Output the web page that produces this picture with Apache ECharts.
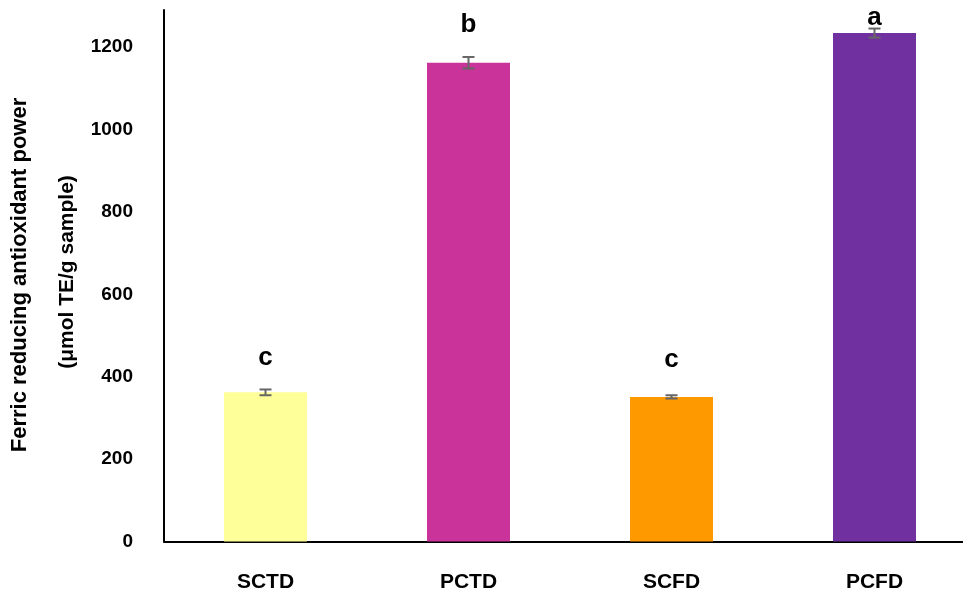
<!DOCTYPE html>
<html><head><meta charset="utf-8">
<script src="https://cdn.jsdelivr.net/npm/echarts@6/dist/echarts.min.js"></script>
<style>html,body{margin:0;padding:0;background:#fff;overflow:hidden;width:963px;height:594px}#c{width:980px;height:594px}</style>
</head><body><div id="c"></div>
<script>
const categories = ['SCTD', 'PCTD', 'SCFD', 'PCFD'];
const values = [362, 1162, 351, 1234];
const errors = [7, 14, 4, 11];
const letters = ['c', 'b', 'c', 'a'];
const barColors = ['#FFFF99', '#CA3399', '#FF9900', '#7030A0'];
const yTicks = [0, 200, 400, 600, 800, 1000, 1200];
const letterGap = [19, 19, 22, -2];

const chart = echarts.init(document.getElementById('c'), null, {renderer: 'canvas'});
const font = 'Liberation Sans, Arial, sans-serif';
chart.setOption({
  animation: false,
  backgroundColor: '#ffffff',
  grid: {left: 164, top: 10, width: 812, height: 531.5, containLabel: false},
  xAxis: {
    type: 'category', data: categories,
    axisLine: {lineStyle: {color: '#000', width: 2}},
    axisTick: {show: false},
    axisLabel: {color: '#000', fontFamily: font, fontWeight: 'bold', fontSize: 21, margin: 30}
  },
  yAxis: {
    type: 'value', min: 0, max: 1290, interval: 200,
    axisLine: {show: true, lineStyle: {color: '#000', width: 2}},
    axisTick: {show: false},
    splitLine: {show: false},
    axisLabel: {color: '#000', fontFamily: font, fontWeight: 'bold', fontSize: 19, margin: 31,
      formatter: v => yTicks.includes(v) ? String(v) : ''}
  },
  series: [
    {
      type: 'bar', barWidth: 83,
      data: values.map((v, i) => ({value: v, itemStyle: {color: barColors[i]}}))
    },
    {
      type: 'custom', z: 10,
      data: values.map((v, i) => [i, v, errors[i]]),
      renderItem: (params, api) => {
        const i = api.value(0), v = api.value(1), e = api.value(2);
        const top = api.coord([i, v + e]);
        const bot = api.coord([i, v - e]);
        const x = top[0], hw = 6;
        const st = {stroke: '#666666', lineWidth: 2};
        return {
          type: 'group',
          children: [
            {type: 'line', shape: {x1: x, y1: top[1], x2: x, y2: bot[1]}, style: st},
            {type: 'line', shape: {x1: x - hw, y1: top[1], x2: x + hw, y2: top[1]}, style: st},
            {type: 'line', shape: {x1: x - hw, y1: bot[1], x2: x + hw, y2: bot[1]}, style: st},
            {type: 'text', style: {text: letters[params.dataIndex], x: x, y: top[1] - letterGap[params.dataIndex],
              textAlign: 'center', textVerticalAlign: 'bottom', fill: '#000',
              font: 'bold 26px ' + font}}
          ]
        };
      }
    }
  ],
  graphic: [
    {type: 'text', rotation: Math.PI / 2, x: 20, y: 275,
      style: {text: 'Ferric reducing antioxidant power', font: 'bold 22px ' + font, fill: '#000', textAlign: 'center', textVerticalAlign: 'middle'}},
    {type: 'text', rotation: Math.PI / 2, x: 67, y: 272,
      style: {text: '(\u03bcmol TE/g sample)', font: 'bold 21px ' + font, fill: '#000', textAlign: 'center', textVerticalAlign: 'middle'}}
  ]
});
</script></body></html>
